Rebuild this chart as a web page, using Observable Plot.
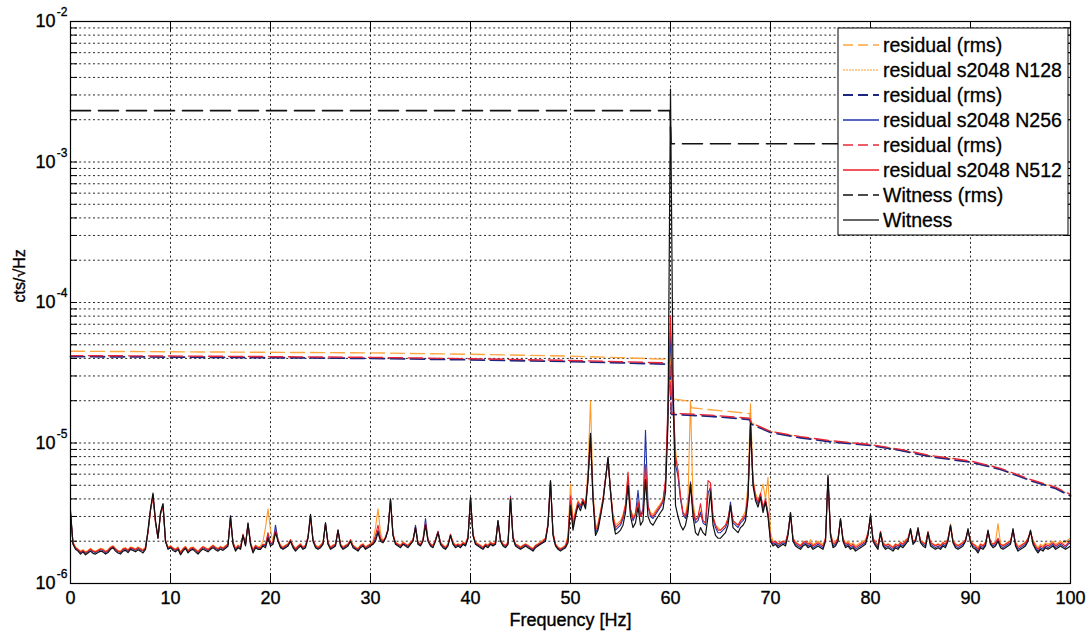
<!DOCTYPE html>
<html><head><meta charset="utf-8">
<script src="https://cdn.jsdelivr.net/npm/d3@7"></script>
<script src="https://cdn.jsdelivr.net/npm/@observablehq/plot@0.6"></script>
<style>
body{margin:0;background:#fff;}
#chart{width:1089px;height:635px;}
</style>
</head><body><div id="chart"></div>
<script>
// ---- DATA (amplitude spectral density in units of 1e-6 cts/sqrt(Hz)), sampled every 0.25 Hz from 0 to 100 Hz ----
const fStep = 0.25;
const witness = [
3.3,1.9,1.75,1.7,1.62,1.68,1.6,1.65,1.7,1.64,1.62,1.66,1.7,1.68,1.62,1.66,1.75,1.8,1.7,1.65,
1.62,1.7,1.72,1.66,1.75,1.72,1.68,1.74,1.7,1.65,1.75,2.4,3.4,4.4,2.8,2.1,3.2,3.7,2.0,1.75,
1.8,1.72,1.68,1.75,1.6,1.7,1.78,1.65,1.72,1.75,1.68,1.62,1.7,1.76,1.72,1.68,1.75,1.8,1.74,1.7,
1.76,1.72,1.78,1.85,3.0,1.9,1.7,1.8,1.75,2.2,1.85,2.7,1.9,1.65,1.8,1.75,1.75,1.85,1.8,2.1,
1.85,1.9,2.3,2.0,1.8,1.75,1.8,1.85,2.0,1.8,1.7,1.78,1.85,1.75,1.8,2.1,3.1,2.0,1.8,1.75,
1.8,1.9,2.7,1.9,1.75,1.8,1.85,2.4,1.85,1.75,1.8,1.85,2.0,1.8,1.75,1.7,1.8,1.85,1.75,1.8,
1.85,1.9,2.0,2.3,2.0,1.95,2.1,2.4,4.0,2.2,1.9,1.85,1.8,1.9,1.85,1.8,1.9,2.0,2.5,1.9,
1.85,2.0,2.6,2.0,1.85,1.8,2.0,2.3,1.9,1.8,1.75,1.85,2.2,1.9,1.8,1.85,1.8,1.9,1.85,2.1,
4.1,2.2,1.9,1.85,1.8,1.75,1.85,1.8,1.9,1.85,1.9,2.8,2.0,1.85,1.8,1.9,4.0,2.1,1.85,1.8,
1.75,1.8,1.85,1.8,1.75,1.7,1.8,1.85,1.9,1.95,2.0,2.6,5.4,2.2,1.85,1.75,1.7,1.75,1.8,1.95,
3.6,2.4,3.0,3.6,3.3,3.8,3.4,5.5,11.7,4.0,2.2,2.4,3.0,3.8,5.5,7.9,4.5,2.8,2.25,2.3,
2.4,2.6,3.2,5.0,3.0,2.5,2.7,3.5,2.6,2.8,5.5,3.0,2.7,2.6,2.8,3.0,3.2,3.4,4.5,14,
3300,30,3.6,3.0,2.6,2.4,2.6,3.2,5.1,3.0,2.3,2.2,2.5,2.3,2.2,3.0,4.5,2.6,2.2,2.1,
2.1,2.2,2.3,2.6,3.6,2.5,2.4,2.3,2.5,2.6,2.8,4.0,13.8,5.0,3.9,3.5,4.1,3.2,3.8,3.0,
2.0,1.85,1.9,1.8,1.85,1.9,1.85,2.2,3.2,2.0,1.85,1.8,1.75,1.85,1.9,1.8,1.85,1.75,1.8,1.85,
1.8,1.75,2.0,5.9,2.2,1.8,1.85,2.0,2.9,2.0,1.8,1.85,1.75,1.8,1.7,1.75,1.8,1.85,1.9,2.2,
3.1,2.0,1.85,1.75,2.3,1.85,1.75,1.8,1.75,1.7,1.8,1.75,1.85,1.8,1.9,2.0,2.46,1.9,2.0,2.5,
1.95,1.85,1.8,2.3,1.85,1.8,1.75,1.8,1.75,1.85,1.8,2.0,2.6,1.95,1.8,1.75,1.8,1.85,2.0,2.46,
1.95,1.8,1.75,1.65,1.8,1.75,1.85,2.4,1.9,1.8,1.85,2.0,1.8,1.75,1.8,1.85,1.9,2.46,1.85,1.7,
1.75,1.8,1.85,2.0,2.4,1.9,1.75,1.65,1.75,1.7,1.8,1.75,1.8,1.85,1.75,1.8,1.85,1.8,1.75,1.8,
1.85];
const resN512 = [
3.1,1.95,1.8,1.75,1.68,1.72,1.66,1.7,1.76,1.7,1.68,1.72,1.76,1.74,1.68,1.72,1.8,1.84,1.76,1.7,
1.68,1.76,1.78,1.72,1.8,1.78,1.74,1.8,1.76,1.72,1.8,2.3,3.3,4.2,2.7,2.1,3.1,3.6,2.0,1.8,
1.84,1.78,1.74,1.8,1.66,1.76,1.82,1.7,1.78,1.8,1.74,1.68,1.76,1.82,1.78,1.74,1.8,1.86,1.8,1.76,
1.82,1.78,1.84,1.9,2.9,1.95,1.76,1.86,1.8,2.25,1.9,2.65,1.95,1.72,1.86,1.8,1.8,1.9,1.9,2.3,
1.95,1.95,2.4,2.05,1.85,1.8,1.86,1.9,2.05,1.86,1.76,1.84,1.9,1.8,1.86,2.15,3.0,2.05,1.86,1.8,
1.86,1.95,2.65,1.95,1.8,1.86,1.9,2.4,1.9,1.8,1.86,1.9,2.05,1.86,1.8,1.76,1.86,1.9,1.8,1.86,
1.9,1.95,2.2,2.6,2.1,2.0,2.15,2.45,3.9,2.25,1.95,1.9,1.86,1.95,1.9,1.86,1.95,2.05,2.5,1.95,
1.9,2.05,2.7,2.05,1.9,1.86,2.05,2.35,1.95,1.86,1.8,1.9,2.25,1.95,1.86,1.9,1.86,1.95,1.9,2.15,
4.0,2.25,1.95,1.9,1.86,1.8,1.9,1.86,1.95,1.9,1.95,2.75,2.05,1.9,1.86,1.95,4.1,2.15,1.9,1.86,
1.8,1.86,1.9,1.86,1.8,1.76,1.86,1.9,1.95,2.0,2.1,2.7,5.3,2.3,1.9,1.8,1.76,1.8,1.86,2.1,
4.2,2.6,3.2,3.8,3.6,4.0,3.6,5.6,11.0,4.2,2.4,2.6,3.2,4.0,5.6,7.6,4.6,3.0,2.5,2.6,
2.7,3.0,3.6,6.2,3.4,2.9,3.1,3.8,3.0,3.2,7.0,3.5,3.1,3.0,3.2,3.4,3.6,3.9,5.5,20,
80,22,8.0,6.4,4.2,3.2,3.0,3.6,5.0,3.4,2.8,3.0,3.7,2.8,2.7,5.4,5.2,3.0,2.6,2.4,
2.4,2.5,2.6,2.9,3.6,2.8,2.7,2.6,2.8,2.9,3.1,4.4,13.0,5.4,4.2,3.8,4.4,3.5,4.0,3.2,
2.1,1.95,2.0,1.9,1.95,2.0,1.95,2.3,3.1,2.1,1.95,1.9,1.85,1.95,2.0,1.9,1.95,1.85,1.9,1.95,
1.9,1.85,2.1,5.6,2.3,1.9,1.95,2.1,2.85,2.1,1.9,1.95,1.85,1.9,1.8,1.85,1.9,1.95,2.0,2.3,
3.0,2.1,1.95,1.85,2.35,1.95,1.85,1.9,1.85,1.8,1.9,1.85,1.95,1.9,2.0,2.1,2.45,2.0,2.05,2.45,
2.0,1.95,1.9,2.35,1.95,1.9,1.85,1.9,1.85,1.95,1.9,2.1,2.55,2.0,1.9,1.85,1.9,1.95,2.05,2.4,
2.0,1.9,1.85,1.75,1.9,1.85,1.95,2.35,1.95,1.9,1.95,2.1,1.9,1.85,1.9,1.95,2.0,2.4,1.95,1.8,
1.85,1.9,1.95,2.1,2.35,2.0,1.85,1.75,1.85,1.8,1.9,1.85,1.9,1.95,1.85,1.9,1.95,1.9,1.85,1.95,
2.0];
const resN256 = [
3.2,1.92,1.78,1.72,1.66,1.7,1.64,1.68,1.74,1.68,1.66,1.7,1.74,1.72,1.66,1.7,1.78,1.82,1.74,1.68,
1.66,1.74,1.76,1.7,1.78,1.76,1.72,1.78,1.74,1.7,1.78,2.35,3.35,4.3,2.75,2.1,3.15,3.65,2.0,1.78,
1.82,1.76,1.72,1.78,1.64,1.74,1.8,1.68,1.76,1.78,1.72,1.66,1.74,1.8,1.76,1.72,1.78,1.84,1.78,1.74,
1.8,1.76,1.82,1.9,3.05,1.95,1.74,1.84,1.78,2.2,1.88,2.65,1.92,1.7,1.84,1.78,1.78,1.88,1.86,2.2,
1.9,1.95,2.6,2.05,1.82,1.78,1.84,1.88,2.0,1.84,1.74,1.82,1.88,1.78,1.84,2.15,3.1,2.05,1.84,1.78,
1.84,1.92,2.7,1.92,1.78,1.84,1.88,2.4,1.88,1.78,1.84,1.88,2.0,1.84,1.78,1.74,1.84,1.88,1.78,1.84,
1.88,1.92,2.1,2.4,2.05,1.98,2.1,2.4,3.95,2.2,1.92,1.88,1.84,1.92,1.88,1.84,1.92,2.02,2.6,1.92,
1.88,2.05,2.9,2.05,1.88,1.84,2.05,2.35,1.92,1.84,1.78,1.88,2.2,1.92,1.84,1.88,1.84,1.92,1.88,2.1,
4.05,2.2,1.92,1.88,1.84,1.78,1.88,1.84,1.92,1.88,1.92,2.8,2.05,1.88,1.84,1.92,4.2,2.1,1.88,1.84,
1.78,1.84,1.88,1.84,1.78,1.74,1.84,1.88,1.92,1.98,2.05,2.6,5.4,2.25,1.88,1.78,1.74,1.78,1.84,2.05,
3.9,2.5,3.1,3.7,3.5,3.9,3.5,5.4,11.4,4.1,2.3,2.5,3.1,3.9,5.5,7.8,4.5,2.9,2.4,2.5,
2.6,2.9,3.5,5.4,3.3,2.8,3.1,4.6,3.0,3.4,12.3,3.6,3.0,2.9,3.1,3.3,3.5,3.8,5.2,17,
60,18,7.0,5.8,4.0,3.1,2.9,3.4,5.3,3.3,2.7,2.8,3.2,2.7,2.6,4.4,4.8,2.9,2.5,2.3,
2.3,2.4,2.5,2.8,3.8,2.7,2.6,2.5,2.7,2.8,3.0,4.2,13.4,5.2,4.1,3.7,4.3,3.4,3.9,3.1,
2.05,1.9,1.95,1.85,1.9,1.95,1.9,2.3,3.2,2.05,1.9,1.85,1.8,1.9,1.95,1.85,1.9,1.8,1.85,1.9,
1.85,1.8,2.05,5.7,2.25,1.85,1.9,2.05,2.85,2.05,1.85,1.9,1.8,1.85,1.75,1.8,1.85,1.9,1.95,2.25,
3.05,2.05,1.9,1.8,2.3,1.9,1.8,1.85,1.8,1.75,1.85,1.8,1.9,1.85,1.95,2.05,2.4,1.95,2.0,2.4,
1.98,1.9,1.85,2.3,1.9,1.85,1.8,1.85,1.8,1.9,1.85,2.05,2.55,1.98,1.85,1.8,1.85,1.9,2.0,2.4,
1.98,1.85,1.8,1.7,1.85,1.8,1.9,2.35,1.92,1.85,1.9,2.05,1.85,1.8,1.85,1.9,1.95,2.4,1.9,1.75,
1.8,1.85,1.9,2.05,2.35,1.95,1.8,1.7,1.8,1.75,1.85,1.8,1.85,1.9,1.8,1.85,1.9,1.85,1.8,1.9,
1.95];
const resN128 = [
3.0,1.98,1.82,1.76,1.7,1.74,1.68,1.72,1.78,1.72,1.7,1.74,1.78,1.76,1.7,1.74,1.82,1.86,1.78,1.72,
1.7,1.78,1.8,1.74,1.82,1.8,1.76,1.82,1.78,1.74,1.82,2.3,3.3,4.1,2.7,2.15,3.1,3.5,2.05,1.82,
1.86,1.8,1.76,1.82,1.68,1.78,1.84,1.72,1.8,1.82,1.76,1.7,1.78,1.84,1.8,1.76,1.82,1.88,1.82,1.78,
1.84,1.8,1.86,1.92,2.8,1.98,1.78,1.88,1.82,2.2,1.92,2.6,1.98,1.74,1.88,1.82,1.85,2.0,2.5,3.4,
2.4,1.98,2.3,2.05,1.88,1.82,1.88,1.92,2.05,1.88,1.78,1.86,1.92,1.82,1.88,2.1,2.9,2.05,1.88,1.82,
1.88,1.98,2.6,1.98,1.82,1.88,1.92,2.35,1.92,1.82,1.88,1.92,2.05,1.88,1.82,1.78,1.88,1.92,1.82,1.88,
1.92,2.0,2.5,3.4,2.3,2.0,2.1,2.4,3.8,2.25,1.98,1.92,1.88,1.98,1.92,1.88,1.98,2.05,2.45,1.98,
1.92,2.05,2.6,2.05,1.92,1.88,2.05,2.3,1.98,1.88,1.82,1.92,2.2,1.98,1.88,1.92,1.88,1.98,1.92,2.15,
3.9,2.25,1.98,1.92,1.88,1.82,1.92,1.88,1.98,1.92,1.98,2.7,2.05,1.92,1.88,1.98,3.9,2.15,1.92,1.88,
1.82,1.88,1.92,1.88,1.82,1.78,1.88,1.92,1.98,2.05,2.1,2.6,5.2,2.3,1.92,1.82,1.78,1.82,1.88,2.2,
5.1,2.8,3.3,3.9,3.6,4.0,3.7,6.5,20,4.6,2.5,2.7,3.3,4.0,5.6,7.5,4.7,3.1,2.6,2.7,
2.8,3.1,3.7,5.8,3.4,3.0,3.2,3.9,3.1,3.3,6.0,3.6,3.2,3.1,3.3,3.5,3.7,4.0,5.0,16,
45,20,9.0,6.0,4.0,3.2,3.1,4.0,20,3.8,2.9,2.9,3.3,2.8,2.7,4.2,4.9,3.0,2.6,2.5,
2.4,2.5,2.6,2.9,3.5,2.8,2.7,2.6,2.8,3.0,3.3,5.0,19,5.5,4.4,4.0,4.3,5.1,4.0,5.7,
2.3,2.0,2.0,1.92,1.98,2.0,1.98,2.25,3.0,2.1,1.98,1.92,1.88,1.98,2.0,1.92,2.05,1.88,1.95,2.0,
1.95,1.9,2.1,5.4,2.3,1.95,2.0,2.1,2.8,2.1,1.95,2.0,1.9,1.95,1.85,1.9,1.95,2.0,2.05,2.3,
2.9,2.1,1.98,1.88,2.3,1.98,1.88,1.92,1.88,1.82,1.92,1.88,1.98,1.92,2.05,2.1,2.4,2.0,2.05,2.4,
2.05,1.98,1.92,2.3,1.98,1.92,1.88,1.92,1.88,1.98,1.92,2.1,2.65,2.05,1.92,1.88,1.92,1.98,2.05,2.35,
2.05,1.92,1.88,1.8,1.92,1.88,1.98,2.3,1.98,1.92,1.98,2.67,1.92,1.88,1.92,1.98,2.0,2.35,1.98,1.85,
1.88,1.92,1.98,2.1,2.3,2.05,1.9,1.8,1.9,1.85,1.95,1.9,1.95,2.0,1.9,1.95,2.0,1.95,1.95,2.05,
2.1];

// RMS curves (units of 1e-6)
const rmsFreqN128 = [0,10,20,30,40,50,55,59.9,60.1,61.9,62.1,67.9,68.1,70,73,76,80,83,86,90,93,96,98.5,100];
const rmsN128     = [45,44.6,44.2,43.8,42.8,41.5,40.5,39.4,20.7,19.8,17.8,16.2,13.9,12.1,11.0,10.3,9.7,8.9,8.1,7.35,6.5,5.45,4.8,4.25];
const rmsFreq     = [0,10,20,30,40,50,55,59.9,60.1,64,67.9,68.1,70,73,76,80,83,86,90,93,96,98.5,100];
const rmsN256     = [41.2,40.9,40.5,40.0,39.1,38.0,37.2,36.4,16.0,15.5,14.7,13.6,11.9,10.9,10.2,9.6,8.85,8.0,7.3,6.5,5.4,4.75,4.2];
const rmsN512     = [41.9,41.6,41.2,40.7,39.8,38.7,37.9,37.1,16.3,15.8,15.0,13.85,12.1,11.1,10.4,9.75,9.0,8.15,7.45,6.6,5.5,4.85,4.3];
const rmsFreqW    = [0,59.95,60.05,100];
const rmsWitness  = [2320,2320,1350,1350];

const xTicks = [0,10,20,30,40,50,60,70,80,90,100];
const yDecades = [1e-6,1e-5,1e-4,1e-3,1e-2];
const yExponents = ["-6","-5","-4","-3","-2"];
const minorMult = [1,2,3,4,5,6,7,8,9];
const legendLabels = ["residual (rms)","residual s2048 N128","residual (rms)","residual s2048 N256","residual (rms)","residual s2048 N512","Witness (rms)","Witness"];

// ---- build tables ----
const U = 1e-6;
const spec = arr => arr.map((v,i)=>({f:i*fStep, v:v*U}));
const curve = (fs, vs) => fs.map((f,i)=>({f, v:vs[i]*U}));
const yGrid = [];
for (const d of yDecades.slice(0,4)) for (const m of minorMult) yGrid.push(d*m);
yGrid.push(1e-2);

const C = {
  orange:"#ff9a2a", orangeRms:"#ffa640",
  blue:"#2233aa", blueRms:"#1c2680",
  red:"#ee1c24", redRms:"#e8283a",
  black:"#111111"
};
const FONT = "Liberation Sans, Arial, Helvetica, sans-serif";
const TXT = {fill:"#000", stroke:"#000", strokeWidth:0.35};

const chart = Plot.plot({
  width:1089, height:635,
  marginLeft:70, marginRight:19, marginTop:21, marginBottom:52,
  style:{fontFamily:FONT, fontSize:"17px", color:"#000", background:"#fff"},
  x:{domain:[0,100], axis:null},
  y:{type:"log", domain:[1e-6,1e-2], axis:null},
  marks:[
    Plot.ruleY(yGrid, {y:d=>d, stroke:"#000", strokeWidth:1, strokeDasharray:"2,2.6", strokeOpacity:0.85}),
    Plot.ruleX(xTicks.slice(1,-1), {x:d=>d, stroke:"#000", strokeWidth:1, strokeDasharray:"2,2.6", strokeOpacity:0.85}),
    // inward ticks
    Plot.tickY(yGrid, {y:d=>d, insetRight:993, stroke:"#000"}),
    Plot.tickY(yGrid, {y:d=>d, insetLeft:993, stroke:"#000"}),
    Plot.tickX(xTicks, {x:d=>d, insetTop:552, stroke:"#000"}),
    Plot.tickX(xTicks, {x:d=>d, insetBottom:552, stroke:"#000"}),
    // series
    Plot.line(curve(rmsFreqN128, rmsN128), {x:"f", y:"v", stroke:C.orangeRms, strokeWidth:1.4, strokeDasharray:"14,6"}),
    Plot.line(spec(resN128), {x:"f", y:"v", stroke:C.orange, strokeWidth:1.1}),
    Plot.line(curve(rmsFreq, rmsN256), {x:"f", y:"v", stroke:C.blueRms, strokeWidth:1.8, strokeDasharray:"14,6"}),
    Plot.line(spec(resN256), {x:"f", y:"v", stroke:C.blue, strokeWidth:1.1}),
    Plot.line(curve(rmsFreq, rmsN512), {x:"f", y:"v", stroke:C.redRms, strokeWidth:1.4, strokeDasharray:"14,6", strokeDashoffset:2}),
    Plot.line(spec(resN512), {x:"f", y:"v", stroke:C.red, strokeWidth:1.1}),
    Plot.line(curve(rmsFreqW, rmsWitness), {x:"f", y:"v", stroke:C.black, strokeWidth:1.6, strokeDasharray:"20,8"}),
    Plot.line(spec(witness), {x:"f", y:"v", stroke:C.black, strokeWidth:1.2}),
    Plot.frame({stroke:"#000", strokeWidth:1.2}),
    // axes labels
    Plot.text(xTicks, {x:d=>d, text:d=>String(d), frameAnchor:"bottom", lineAnchor:"middle", dy:15, fontSize:18, ...TXT}),
    Plot.text(yDecades, {y:d=>d, text:()=> "10", frameAnchor:"left", dx:-15, textAnchor:"end", fontSize:18, ...TXT}),
    Plot.text(yDecades, {y:d=>d, text:(d,i)=>yExponents[i], frameAnchor:"left", dx:-3, dy:-9, textAnchor:"end", fontSize:12, ...TXT}),
    Plot.text(["Frequency [Hz]"], {frameAnchor:"bottom", lineAnchor:"middle", dy:37, fontSize:18, ...TXT}),
    Plot.text(["cts/\u221AHz"], {frameAnchor:"left", dx:-51, rotate:-90, fontSize:16, ...TXT})
  ]
});
document.getElementById("chart").appendChild(chart);

// ---- legend inside the axes (MATLAB style) ----
const svg = d3.select(chart);
const lg = svg.append("g").attr("font-family", FONT).attr("font-size", 19.5).attr("text-anchor","start");
lg.append("rect").attr("x",838).attr("y",28).attr("width",230).attr("height",207)
  .attr("fill","#fff").attr("stroke","#000").attr("stroke-width",1);
const legendStyles = [
  {stroke:C.orangeRms, dash:"10,5", w:1.4},
  {stroke:C.orange, dash:"2,1", w:1.2},
  {stroke:C.blueRms, dash:"10,5", w:1.8},
  {stroke:C.blue, dash:null, w:1.4},
  {stroke:C.redRms, dash:"10,5", w:1.4},
  {stroke:C.red, dash:null, w:1.4},
  {stroke:C.black, dash:"10,5", w:1.6},
  {stroke:"#333", dash:null, w:1.4}
];
legendLabels.forEach((lab,i)=>{
  const y = 45 + i*25;
  const st = legendStyles[i];
  const ln = lg.append("line").attr("x1",843).attr("x2",879).attr("y1",y).attr("y2",y)
    .attr("stroke",st.stroke).attr("stroke-width",st.w);
  if (st.dash) ln.attr("stroke-dasharray",st.dash);
  lg.append("text").attr("x",883).attr("y",y).attr("dy","0.35em").attr("fill","#000")
    .attr("stroke","#000").attr("stroke-width",0.3).text(lab);
});
</script>
</body></html>
